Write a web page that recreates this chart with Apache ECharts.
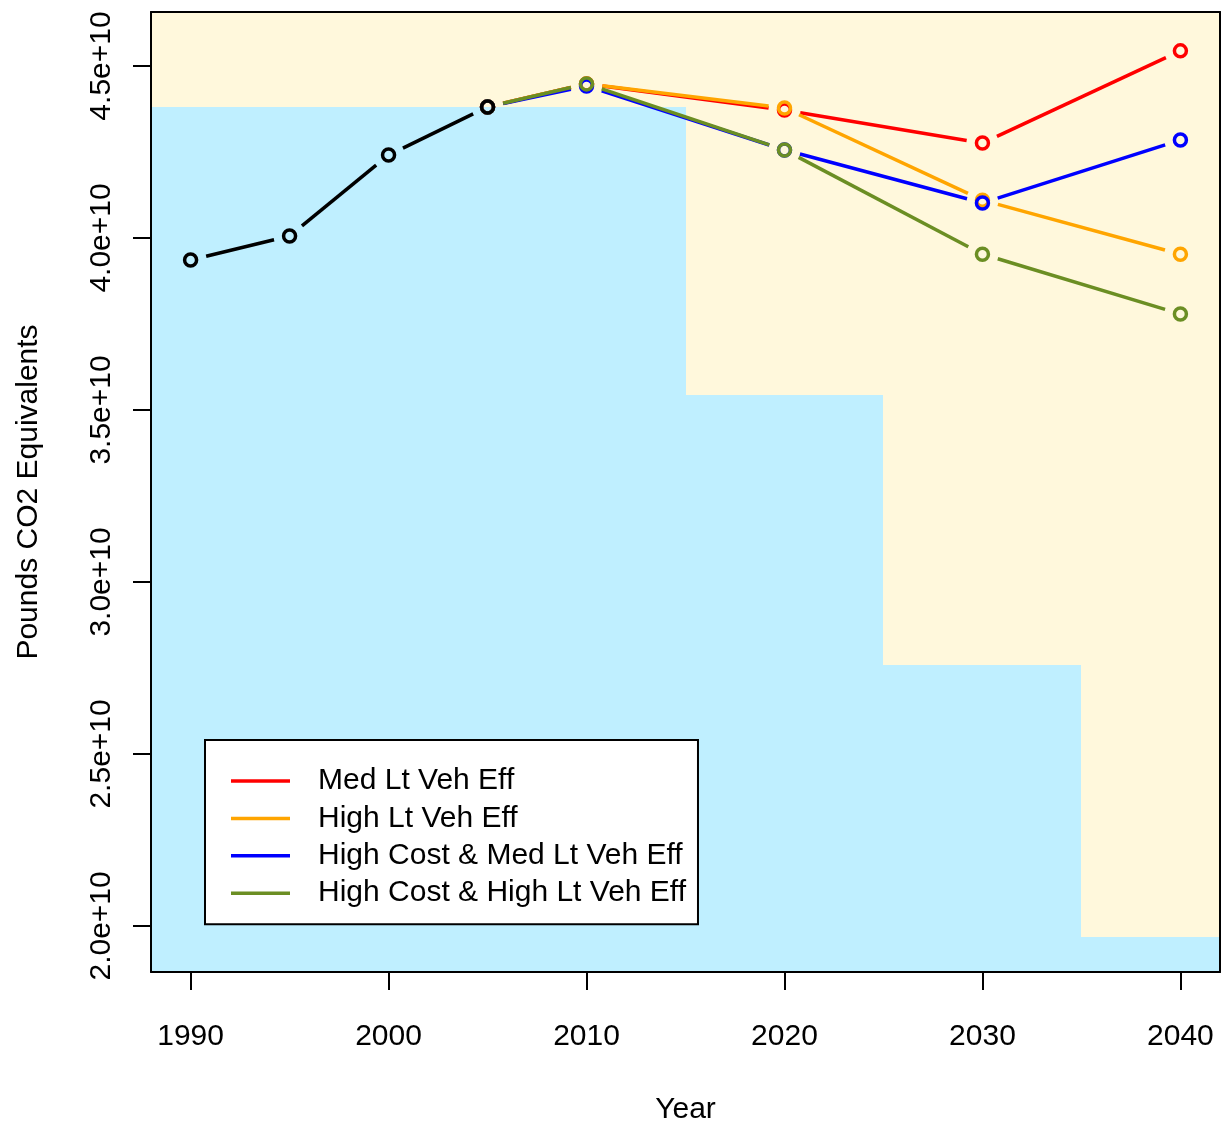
<!DOCTYPE html>
<html><head><meta charset="utf-8">
<script src="https://cdn.jsdelivr.net/npm/echarts@6/dist/echarts.min.js"></script>
<style>html,body{margin:0;padding:0;background:#fff}#c{width:1224px;height:1125px}</style>
</head><body><div id="c"></div>
<script>
// ---- data ----
const histYears = [1990, 1995, 2000, 2005];
const histValues = [3.936e10, 4.006e10, 4.241e10, 4.381e10];
const scenarioYears = [2005, 2010, 2020, 2030, 2040];
const scenarioNames = ['Med Lt Veh Eff', 'High Lt Veh Eff', 'High Cost & Med Lt Veh Eff', 'High Cost & High Lt Veh Eff'];
const medLtVehEff = [4.381e10, 4.448e10, 4.372e10, 4.276e10, 4.544e10];
const highLtVehEff = [4.381e10, 4.448e10, 4.378e10, 4.110e10, 3.953e10];
const highCostMedLtVehEff = [4.381e10, 4.442e10, 4.256e10, 4.102e10, 4.285e10];
const highCostHighLtVehEff = [4.381e10, 4.448e10, 4.256e10, 3.953e10, 3.779e10];
const bandStart = [1988, 2015, 2025, 2035];
const bandEnd = [2015, 2025, 2035, 2042];
const bandTop = [4.381e10, 3.544e10, 2.759e10, 1.968e10];
const xTicks = [1990, 2000, 2010, 2020, 2030, 2040];
const yTicks = [2.0e10, 2.5e10, 3.0e10, 3.5e10, 4.0e10, 4.5e10];

const X_MIN = 1988, X_MAX = 2042, Y_MIN = 1.866e10, Y_MAX = 4.657e10;
const FONT = '"Liberation Sans", Arial, Helvetica, sans-serif';
const GAP = 16, R = 6, LW = 3.5;
const colors = ['#FF0000', '#FFA500', '#0000FF', '#6B8E23'];

function pointSeries(name, years, vals, color) {
  return {
    type: 'custom', name: name, coordinateSystem: 'cartesian2d',
    itemStyle: { color: color },
    encode: { x: 0, y: 1 },
    data: years.map((y, i) => [y, vals[i]]),
    renderItem: function (params, api) {
      const i = params.dataIndex;
      const p = api.coord([api.value(0), api.value(1)]);
      const children = [];
      if (i < years.length - 1) {
        const q = api.coord([years[i + 1], vals[i + 1]]);
        const dx = q[0] - p[0], dy = q[1] - p[1], L = Math.hypot(dx, dy);
        if (L > 2 * GAP) {
          const ux = dx / L, uy = dy / L;
          children.push({ type: 'line', shape: { x1: p[0] + ux * GAP, y1: p[1] + uy * GAP, x2: q[0] - ux * GAP, y2: q[1] - uy * GAP },
            style: { stroke: color, lineWidth: LW, lineCap: 'butt' } });
        }
      }
      children.push({ type: 'circle', shape: { cx: p[0], cy: p[1], r: R }, style: { fill: 'none', stroke: color, lineWidth: LW } });
      return { type: 'group', children: children };
    }
  };
}

const bandSeries = {
  type: 'custom', name: 'band', coordinateSystem: 'cartesian2d', silent: true,
  encode: { x: [0, 1], y: 2 },
  data: bandStart.map((s, i) => [s, bandEnd[i], bandTop[i]]),
  renderItem: function (params, api) {
    const p0 = api.coord([api.value(0), api.value(2)]);
    const p1 = api.coord([api.value(1), Y_MIN]);
    const x0 = Math.round(p0[0]), x1 = Math.round(p1[0]);
    const y0 = Math.round(p0[1]), y1 = Math.round(p1[1]);
    return { type: 'rect', shape: { x: x0, y: y0, width: x1 - x0, height: y1 - y0 },
      style: { fill: '#BFEFFF', stroke: null } };
  }
};

const axisTextStyle = { fontSize: 30, color: '#000', fontFamily: FONT };
const chart = echarts.init(document.getElementById('c'), null, { renderer: 'canvas' });
chart.setOption({
  animation: false,
  backgroundColor: '#ffffff',
  textStyle: { fontFamily: FONT },
  grid: { left: 151, top: 12, right: 4, bottom: 153, show: true, backgroundColor: '#FFF8DC', borderWidth: 0,
    containLabel: false, outerBoundsMode: 'none' },
  xAxis: [{
    type: 'value', min: X_MIN, max: X_MAX, z: 10,
    axisLine: { show: true, onZero: false, lineStyle: { color: '#000', width: 2 } }, splitLine: { show: false },
    axisTick: { show: true, customValues: xTicks, length: 18, lineStyle: { color: '#000', width: 2 } },
    axisLabel: Object.assign({ customValues: xTicks, margin: 50, formatter: v => String(v) }, axisTextStyle),
    name: 'Year', nameLocation: 'middle', nameGap: 123, nameTextStyle: axisTextStyle
  }, {
    type: 'value', min: X_MIN, max: X_MAX, position: 'top', z: 10,
    axisLine: { show: true, onZero: false, lineStyle: { color: '#000', width: 2 } },
    axisTick: { show: false }, axisLabel: { show: false }, splitLine: { show: false }
  }],
  yAxis: [{
    type: 'value', min: Y_MIN, max: Y_MAX, z: 10,
    axisLine: { show: true, onZero: false, lineStyle: { color: '#000', width: 2 } }, splitLine: { show: false },
    axisTick: { show: true, customValues: yTicks, length: 18, lineStyle: { color: '#000', width: 2 } },
    axisLabel: Object.assign({ customValues: yTicks, rotate: 90, margin: 34,
      formatter: v => (v / 1e10).toFixed(1) + 'e+10' }, axisTextStyle),
    name: 'Pounds CO2 Equivalents', nameLocation: 'middle', nameGap: 107, nameRotate: 90,
    nameTextStyle: axisTextStyle
  }, {
    type: 'value', min: Y_MIN, max: Y_MAX, position: 'right', z: 10,
    axisLine: { show: true, onZero: false, lineStyle: { color: '#000', width: 2 } },
    axisTick: { show: false }, axisLabel: { show: false }, splitLine: { show: false }
  }],
  legend: {
    orient: 'vertical', left: 205, top: 740, padding: [26, 12, 16, 26],
    backgroundColor: '#fff', borderColor: '#000', borderWidth: 2,
    itemWidth: 59, itemHeight: 3.5, itemGap: 7.4, selectedMode: false,
    textStyle: { fontSize: 30, lineHeight: 30, color: '#000', fontFamily: FONT, padding: [0, 0, 0, 23] },
    data: scenarioNames.map(n => ({ name: n, icon: 'rect' }))
  },
  series: [
    bandSeries,
    pointSeries(scenarioNames[0], scenarioYears, medLtVehEff, colors[0]),
    pointSeries(scenarioNames[1], scenarioYears, highLtVehEff, colors[1]),
    pointSeries(scenarioNames[2], scenarioYears, highCostMedLtVehEff, colors[2]),
    pointSeries(scenarioNames[3], scenarioYears, highCostHighLtVehEff, colors[3]),
    pointSeries('Historical', histYears, histValues, '#000000')
  ]
});
</script></body></html>
